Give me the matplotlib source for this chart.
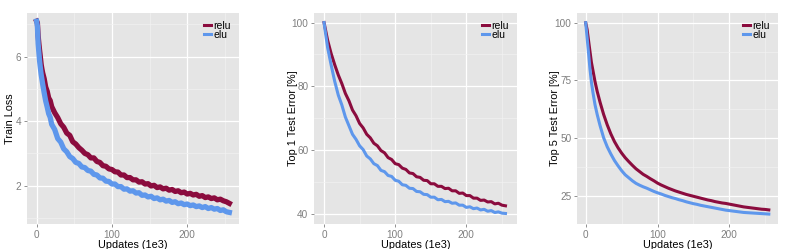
import matplotlib
matplotlib.use("Agg")
import matplotlib.pyplot as plt
from matplotlib.ticker import FixedLocator

plt.rcParams['font.family'] = ['Liberation Sans', 'DejaVu Sans']

# ---------------- data ----------------
loss_x = [0, 1, 2, 3, 4, 5, 6, 7, 8, 10, 12, 14, 16, 18, 20, 24, 28, 32, 36, 40, 44, 48,
          52, 56, 60, 64, 68, 72, 76, 80, 84, 88, 92, 96, 100, 104, 108, 112, 116, 120,
          124, 128, 132, 136, 140, 144, 148, 152, 156, 160, 164, 168, 172, 176, 180,
          184, 188, 192, 196, 200, 204, 208, 212, 216, 220, 224, 228, 232, 236, 240,
          244, 248, 252, 256]
loss_relu = [7.10, 7.05, 6.65, 6.40, 6.18, 5.98, 5.76, 5.62, 5.50, 5.32, 5.06, 4.93, 4.72,
             4.64, 4.45, 4.26, 4.11, 3.92, 3.81, 3.63, 3.56, 3.36, 3.29, 3.18, 3.10, 3.00,
             2.96, 2.86, 2.86, 2.75, 2.72, 2.62, 2.60, 2.52, 2.50, 2.43, 2.42, 2.33, 2.33,
             2.25, 2.25, 2.18, 2.18, 2.11, 2.12, 2.05, 2.06, 1.99, 2.01, 1.94, 1.96, 1.90,
             1.92, 1.86, 1.88, 1.82, 1.84, 1.78, 1.80, 1.74, 1.76, 1.71, 1.73, 1.67, 1.69,
             1.63, 1.65, 1.60, 1.62, 1.56, 1.58, 1.53, 1.50, 1.45]
loss_elu = [7.10, 6.95, 6.40, 6.12, 5.85, 5.64, 5.45, 5.30, 5.15, 4.88, 4.63, 4.44, 4.23,
            4.12, 3.90, 3.74, 3.46, 3.35, 3.14, 3.05, 2.90, 2.84, 2.72, 2.69, 2.58, 2.56,
            2.47, 2.45, 2.35, 2.33, 2.24, 2.23, 2.14, 2.13, 2.05, 2.05, 1.97, 1.97, 1.89,
            1.90, 1.83, 1.84, 1.77, 1.78, 1.70, 1.71, 1.65, 1.67, 1.60, 1.62, 1.56, 1.58,
            1.52, 1.54, 1.48, 1.50, 1.44, 1.46, 1.41, 1.43, 1.38, 1.40, 1.35, 1.37, 1.32,
            1.35, 1.29, 1.32, 1.27, 1.29, 1.23, 1.25, 1.19, 1.17]

top1_x = [0, 5, 10, 15, 20, 25, 30, 35, 40, 45, 50, 55, 60, 65, 70, 75, 80, 85, 90, 95,
          100, 105, 110, 115, 120, 125, 130, 135, 140, 145, 150, 155, 160, 165, 170, 175,
          180, 185, 190, 195, 200, 205, 210, 215, 220, 225, 230, 235, 240, 245, 250, 255]
top1_relu = [100.0, 94.5, 90.3, 86.8, 83.6, 80.9, 77.8, 75.5, 72.6, 70.8, 68.4, 67.0, 65.0,
             63.9, 62.2, 61.4, 59.9, 59.2, 57.7, 57.1, 55.8, 55.5, 54.4, 54.0, 52.9, 52.7,
             51.7, 51.5, 50.6, 50.5, 49.5, 49.5, 48.7, 48.7, 48.0, 48.1, 47.3, 47.3, 46.5,
             46.6, 45.8, 45.8, 45.0, 45.0, 44.3, 44.4, 43.8, 43.9, 43.2, 43.4, 42.8, 42.6]
top1_elu = [100.0, 92.2, 86.7, 81.6, 77.3, 74.2, 70.4, 67.7, 65.0, 63.4, 61.4, 60.2, 58.2,
            57.3, 55.8, 55.2, 53.7, 53.3, 52.1, 51.8, 50.6, 50.3, 49.2, 49.0, 48.1, 48.0,
            47.1, 47.0, 46.2, 46.1, 45.3, 45.3, 44.5, 44.6, 43.9, 44.0, 43.4, 43.5, 42.8,
            42.8, 42.1, 42.3, 41.7, 41.9, 41.3, 41.5, 40.9, 41.1, 40.5, 40.7, 40.3, 40.2]

top5_x = [0, 2, 4, 6, 8, 10, 13, 16, 20, 25, 30, 35, 40, 45, 50, 55, 60, 65, 70, 75, 80,
          85, 90, 95, 100, 105, 110, 115, 120, 125, 130, 135, 140, 145, 150, 155, 160, 165,
          170, 175, 180, 185, 190, 195, 200, 205, 210, 215, 220, 225, 230, 235, 240, 245,
          250, 255]
top5_relu = [100.0, 97.0, 92.2, 87.5, 82.8, 79.5, 74.5, 70.3, 65.6, 60.3, 55.8, 51.9, 48.6,
             45.9, 43.6, 41.6, 39.9, 38.3, 36.8, 35.6, 34.4, 33.5, 32.5, 31.6, 30.6, 29.8,
             29.1, 28.4, 27.8, 27.2, 26.7, 26.2, 25.7, 25.3, 24.9, 24.5, 24.1, 23.7, 23.3,
             23.0, 22.6, 22.3, 22.0, 21.8, 21.5, 21.2, 20.9, 20.6, 20.3, 20.1, 19.9, 19.7,
             19.5, 19.3, 19.2, 19.0]
top5_elu = [100.0, 93.5, 86.8, 79.8, 74.2, 70.0, 64.5, 60.3, 55.5, 50.2, 46.3, 43.2, 40.4,
            38.1, 36.0, 34.2, 32.9, 31.6, 30.5, 29.7, 29.0, 28.4, 27.7, 27.0, 26.4, 25.9,
            25.3, 24.8, 24.3, 23.9, 23.4, 23.0, 22.5, 22.1, 21.7, 21.4, 21.0, 20.7, 20.4,
            20.1, 19.8, 19.5, 19.2, 18.9, 18.7, 18.5, 18.3, 18.1, 17.9, 17.8, 17.7, 17.6,
            17.5, 17.4, 17.3, 17.2]

series_names = ["relu", "elu"]
x_ticks = [0, 100, 200]
x_label = "Updates (1e3)"

# ---------------- style ----------------
RELU_C = "#8B0C3E"
ELU_C = "#5E97EC"
BG = "#E5E5E5"
TICK_C = "#7F7F7F"

fig = plt.figure(figsize=(8.0, 2.49), dpi=100)

panels = [
    dict(rect=[27/800, 25/249, 212/800, 211/249], x=loss_x, ys=[loss_relu, loss_elu],
         xlim=(-12.8, 268.8), ylim=(0.81, 7.355), yt=[2, 4, 6], ym=[1, 3, 5, 7],
         ylabel="Train Loss", lw=3.8, ylx=-0.056),
    dict(rect=[314/800, 25/249, 203/800, 211/249], x=top1_x, ys=[top1_relu, top1_elu],
         xlim=(-14.1, 271.2), ylim=(36.9, 103.0), yt=[40, 60, 80, 100], ym=[50, 70, 90],
         ylabel="Top 1 Test Error [%]", lw=2.2, ylx=-0.080),
    dict(rect=[577/800, 25/249, 201/800, 211/249], x=top5_x, ys=[top5_relu, top5_elu],
         xlim=(-12.1, 267.8), ylim=(12.9, 104.2), yt=[25, 50, 75, 100], ym=[37.5, 62.5, 87.5],
         ylabel="Top 5 Test Error [%]", lw=2.2, ylx=-0.085),
]

for p in panels:
    ax = fig.add_axes(p["rect"])
    ax.set_facecolor(BG)
    for s in ax.spines.values():
        s.set_visible(False)
    ax.set_xlim(*p["xlim"])
    ax.set_ylim(*p["ylim"])
    ax.xaxis.set_major_locator(FixedLocator(x_ticks))
    ax.xaxis.set_minor_locator(FixedLocator([50, 150, 250]))
    ax.yaxis.set_major_locator(FixedLocator(p["yt"]))
    ax.yaxis.set_minor_locator(FixedLocator(p["ym"]))
    ax.grid(which="major", color="white", lw=0.9)
    ax.grid(which="minor", color="#F2F2F2", lw=0.45)
    ax.set_axisbelow(True)
    ax.tick_params(which="major", length=2.5, width=0.6, color=TICK_C,
                   labelcolor=TICK_C, labelsize=7.2, pad=1.5)
    ax.tick_params(which="minor", length=0)
    for yv, c, name in zip(p["ys"], [RELU_C, ELU_C], series_names):
        ax.plot(p["x"], yv, color=c, lw=p["lw"], label=name)
    ax.set_xlabel(x_label, fontsize=7.8, labelpad=0.5)
    ax.set_ylabel(p["ylabel"], fontsize=7.8)
    ax.yaxis.set_label_coords(p["ylx"], 0.5)
    leg = ax.legend(loc="upper right", frameon=False, fontsize=7.5, handlelength=0.7,
                    handletextpad=0.25, labelspacing=-0.1, borderaxespad=0.55,
                    borderpad=0.2)
    for h in leg.get_lines():
        h.set_linewidth(2.2)

fig.savefig("out.png", dpi=100)
